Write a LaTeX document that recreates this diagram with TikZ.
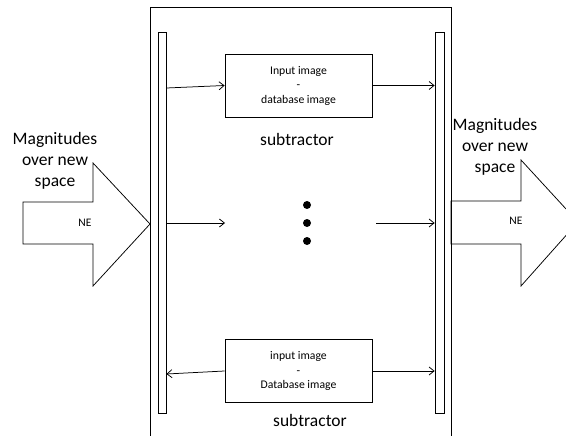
\documentclass[tikz,border=0pt]{standalone}
\usepackage{fontspec}
\setmainfont{Carlito}
\usetikzlibrary{arrows.meta,calc}
\begin{document}
\begin{tikzpicture}[x=1pt,y=-1pt,line width=0.75pt,
  arr/.style={-{Straight Barb[length=5pt,width=8pt]}},
  bar/.style={draw,fill=white,minimum width=8pt,minimum height=381pt,inner sep=0pt},
  sub/.style={draw,minimum width=147pt,minimum height=63pt,inner sep=0pt,align=center,
    font=\fontsize{11.7}{14.5}\selectfont},
  big/.style={font=\fontsize{17.5}{21.3}\selectfont,align=center,inner sep=0pt},
  small/.style={font=\fontsize{11.5}{14}\selectfont,inner sep=0pt},
  dot/.style={circle,fill=black,inner sep=0pt,minimum size=8pt}]
\useasboundingbox (0,0) rectangle (566,436);
\clip (0,0) rectangle (566,436);
% outer frame (open at the bottom, cut by the page edge)
\draw (150,460) -- (150,7) -- (451,7) -- (451,460);
% big arrows
\draw (23,202) -- (93,202) -- (93,163) -- (150,224) -- (93,286) -- (93,244) -- (23,244) -- cycle;
\draw (451,201) -- (521,201) -- (521,160) -- (578,222) -- (521,286) -- (521,244) -- (451,244) -- cycle;
\node[small] (ne1) at (85,223) {NE};
\node[small] (ne2) at (516,221) {NE};
\node[big] (mag1) at (55,161) {Magnitudes\\over new\\space};
\node[big] (mag2) at (495,147) {Magnitudes\\over new\\space};
% bars
\node[bar] (lbar) at (162,222.5) {};
\node[bar,minimum width=9pt] (rbar) at (439.5,222.5) {};
% subtractors
\node[sub] (s1) at (298.5,85.5) {Input image\\-\\database image};
\node[sub] (s2) at (298.5,371) {input image\\-\\Database image};
\node[big] (t1) at (297,139) {subtractor};
\node[big] (t2) at (310,420) {subtractor};
% dots
\node[dot] (d1) at (307,205) {};
\node[dot] (d2) at (307,223) {};
\node[dot] (d3) at (307,241) {};
% connectors
\coordinate (m1) at (225,223);
\coordinate (m2) at (376,223);
\draw[arr] ($(lbar.east |- s1.west)+(0,2.5)$) -- (s1.west);
\draw[arr] (s1.east) -- (rbar.west |- s1.east);
\draw[arr] (lbar.east |- m1) -- (m1);
\draw[arr] (m2) -- (rbar.west |- m2);
\draw[arr] (s2.west) -- ($(lbar.east |- s2.west)+(0,3)$);
\draw[arr] (s2.east) -- (rbar.west |- s2.east);
\end{tikzpicture}
\end{document}
